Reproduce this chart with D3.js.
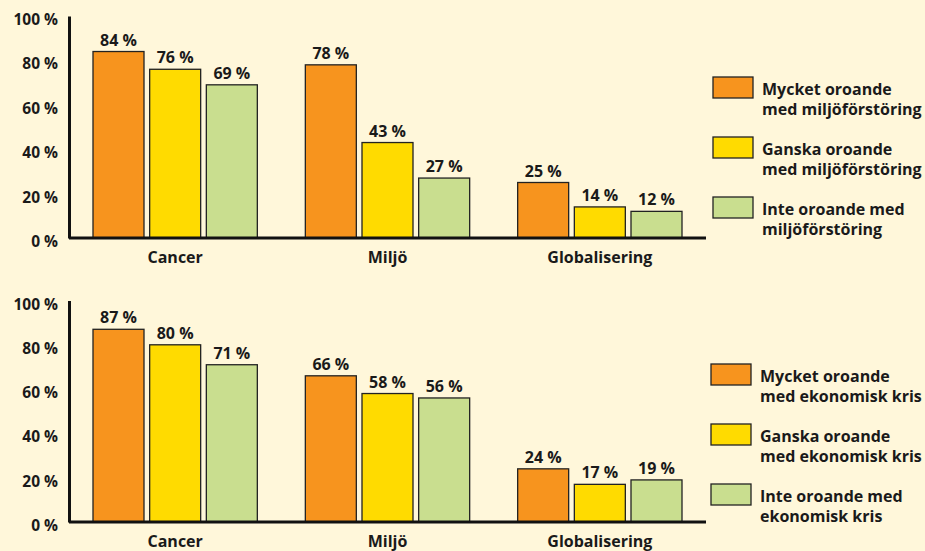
<!DOCTYPE html>
<html>
<head>
<meta charset="utf-8">
<script src="https://cdn.jsdelivr.net/npm/d3@7/dist/d3.min.js"></script>
<style>
  body { margin: 0; background: #fff7da; }
  text { font-family: 'Open Sans', sans-serif; font-weight: 700; fill: #1a1a1a; }
</style>
</head>
<body>
<div id="chart"></div>
<script>
// data
const categories = ['Cancer', 'Miljö', 'Globalisering'];
const miljoMycket = [84, 78, 25];
const miljoGanska = [76, 43, 14];
const miljoInte = [69, 27, 12];
const krisMycket = [87, 66, 24];
const krisGanska = [80, 58, 17];
const krisInte = [71, 56, 19];
const tickValues = [0, 20, 40, 60, 80, 100];
const miljoLegend = [
  ['Mycket oroande', 'med miljöförstöring'],
  ['Ganska oroande', 'med miljöförstöring'],
  ['Inte oroande med', 'miljöförstöring'],
];
const krisLegend = [
  ['Mycket oroande', 'med ekonomisk kris'],
  ['Ganska oroande', 'med ekonomisk kris'],
  ['Inte oroande med', 'ekonomisk kris'],
];
const colors = ['#f7941e', '#ffdb00', '#c9de8f'];

const width = 925;
const height = 551;

const svg = d3.select('#chart').append('svg')
  .attr('width', width)
  .attr('height', height);

svg.append('rect')
  .attr('width', width)
  .attr('height', height)
  .attr('fill', '#fff7da');

const x0 = d3.scaleBand()
  .domain(categories)
  .range([69, 706])
  .padding(0);

const x1 = d3.scaleBand()
  .domain([0, 1, 2])
  .range([24, x0.bandwidth() - 24])
  .paddingInner(0.1);

const color = d3.scaleOrdinal().domain([0, 1, 2]).range(colors);

function drawPanel(series, legendText, baseY, topY, legendTop, legendX) {
  const y = d3.scaleLinear().domain([0, 100]).range([baseY, topY]);
  const g = svg.append('g');

  // bars
  const groups = g.selectAll('.grp')
    .data(categories)
    .enter().append('g')
    .attr('transform', d => `translate(${x0(d)},0)`);

  groups.selectAll('rect')
    .data((d, i) => series.map((s, k) => ({ k, v: s[i] })))
    .enter().append('rect')
    .attr('x', d => x1(d.k))
    .attr('y', d => y(d.v))
    .attr('width', x1.bandwidth())
    .attr('height', d => baseY - y(d.v))
    .attr('fill', d => color(d.k))
    .attr('stroke', '#222')
    .attr('stroke-width', 1.3);

  groups.selectAll('.val')
    .data((d, i) => series.map((s, k) => ({ k, v: s[i] })))
    .enter().append('text')
    .attr('class', 'val')
    .attr('x', d => x1(d.k) + x1.bandwidth() / 2)
    .attr('y', d => y(d.v) - 6)
    .attr('text-anchor', 'middle')
    .style('font-size', '16px')
    .text(d => `${d.v} %`);

  // y axis
  const yAxis = g.append('g')
    .attr('transform', 'translate(69,0)')
    .call(d3.axisLeft(y).tickValues(tickValues).tickSize(0).tickPadding(11)
      .tickFormat(d => `${d} %`));
  yAxis.select('.domain').attr('stroke', '#111').attr('stroke-width', 3);
  yAxis.selectAll('text')
    .attr('dy', '0.55em')
    .style('font-size', '15.5px')
    .style('font-family', "'Open Sans', sans-serif")
    .style('font-weight', 700)
    .attr('fill', '#1a1a1a');

  // baseline
  g.append('line')
    .attr('x1', 69)
    .attr('x2', 706)
    .attr('y1', baseY)
    .attr('y2', baseY)
    .attr('stroke', '#111')
    .attr('stroke-width', 3);

  // category labels
  g.selectAll('.cat')
    .data(categories)
    .enter().append('text')
    .attr('x', d => x0(d) + x0.bandwidth() / 2)
    .attr('y', baseY + 25)
    .attr('text-anchor', 'middle')
    .style('font-size', '16px')
    .text(d => d);

  // legend
  const legend = g.selectAll('.legend')
    .data(legendText)
    .enter().append('g')
    .attr('transform', (d, i) => `translate(${legendX},${legendTop + i * 60})`);

  legend.append('rect')
    .attr('width', 40)
    .attr('height', 21)
    .attr('fill', (d, i) => color(i))
    .attr('stroke', '#222')
    .attr('stroke-width', 1.3);

  legend.append('text')
    .attr('x', 49)
    .attr('y', 18)
    .style('font-size', '16px')
    .selectAll('tspan')
    .data(d => d)
    .enter().append('tspan')
    .attr('x', 49)
    .attr('dy', (d, i) => (i === 0 ? 0 : 20))
    .text(d => d);
}

drawPanel([miljoMycket, miljoGanska, miljoInte], miljoLegend, 238, 16, 77, 713);
drawPanel([krisMycket, krisGanska, krisInte], krisLegend, 522, 300.5, 364, 711);
</script>
</body>
</html>
